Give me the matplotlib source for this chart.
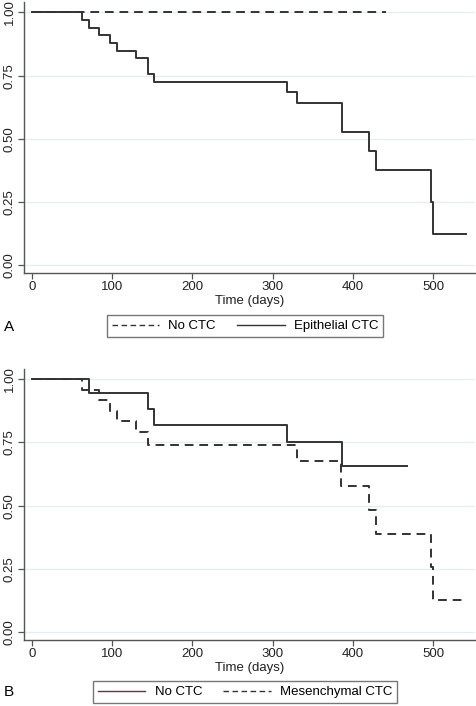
#!/usr/bin/env python3

import matplotlib
matplotlib.use("Agg")
import matplotlib.pyplot as plt
from matplotlib.lines import Line2D

plt.rcParams["font.family"] = ["Liberation Sans", "DejaVu Sans"]

# Panel A: survival curves (time in days, survival probability)
a_noctc_t = [0, 441]
a_noctc_s = [1.0, 1.0]
a_epi_t = [0, 62, 71, 84, 97, 106, 130, 144, 152, 318, 330, 386, 420, 429, 497, 500, 541]
a_epi_s = [1.0, 0.970, 0.939, 0.909, 0.879, 0.848, 0.818, 0.758, 0.727,
           0.686, 0.644, 0.529, 0.452, 0.377, 0.251, 0.126, 0.126]

# Panel B
b_noctc_t = [0, 71, 144, 152, 318, 387, 467]
b_noctc_s = [1.0, 0.945, 0.883, 0.819, 0.753, 0.657, 0.657]
b_mes_t = [0, 62, 84, 97, 106, 130, 144, 330, 385, 420, 429, 497, 500, 541]
b_mes_s = [1.0, 0.958, 0.917, 0.875, 0.833, 0.792, 0.740, 0.677, 0.578,
           0.483, 0.387, 0.258, 0.129, 0.129]

x_ticks = [0, 100, 200, 300, 400, 500]
y_ticks = [0.0, 0.25, 0.5, 0.75, 1.0]

LINE = "#333333"
SPINE = "#555555"
GRID = "#e3eef4"


def style_axes(ax):
    ax.set_xlim(-10, 552)
    ax.set_ylim(-0.03, 1.04)
    ax.set_xticks(x_ticks)
    ax.set_yticks(y_ticks)
    ax.set_yticklabels([f"{v:.2f}" for v in y_ticks], rotation=90, va="center")
    for v in y_ticks:
        ax.axhline(v, color=GRID, lw=0.9, zorder=0)
    for s in ["top", "right"]:
        ax.spines[s].set_visible(False)
    for s in ["left", "bottom"]:
        ax.spines[s].set_color(SPINE)
        ax.spines[s].set_linewidth(1.0)
    ax.tick_params(axis="both", colors=SPINE, length=4, width=0.9,
                   labelsize=9.5, labelcolor="#222222", pad=2)
    ax.set_xlabel("Time (days)", fontsize=9.5, color="#222222", labelpad=1)


def add_legend(handles, labels, y_px):
    leg = fig.legend(handles, labels, ncol=2, loc="center",
                     bbox_to_anchor=(245 / 476, 1 - y_px / 706),
                     fontsize=9.5, frameon=True, fancybox=False,
                     handlelength=3.6, columnspacing=1.6, borderpad=0.35,
                     handletextpad=0.7)
    leg.get_frame().set_edgecolor(SPINE)
    leg.get_frame().set_linewidth(1.0)
    return leg


fig = plt.figure(figsize=(4.76, 7.06), dpi=100)

# Panel A
axA = fig.add_axes([0.0504, 0.6133, 0.947, 0.3834])
axA.step(a_noctc_t, a_noctc_s, where="post", color=LINE, lw=1.4,
         linestyle=(0, (4.5, 3)))
axA.step(a_epi_t, a_epi_s, where="post", color=LINE, lw=1.4)
style_axes(axA)

handlesA = [Line2D([], [], color=LINE, lw=1.0, linestyle=(0, (4, 2.5))),
            Line2D([], [], color=LINE, lw=1.0)]
add_legend(handlesA, ["No CTC", "Epithelial CTC"], 326)
fig.text(4 / 476, 1 - 327 / 706, "A", fontsize=11, va="center", ha="left")

# Panel B
axB = fig.add_axes([0.0504, 0.0935, 0.947, 0.3838])
axB.step(b_noctc_t, b_noctc_s, where="post", color=LINE, lw=1.4)
axB.step(b_mes_t, b_mes_s, where="post", color=LINE, lw=1.4,
         linestyle=(0, (4.5, 3)))
style_axes(axB)

handlesB = [Line2D([], [], color="#5a3a3a", lw=1.0),
            Line2D([], [], color=LINE, lw=1.0, linestyle=(0, (4, 2.5)))]
add_legend(handlesB, ["No CTC", "Mesenchymal CTC"], 692)
fig.text(4 / 476, 1 - 692 / 706, "B", fontsize=11, va="center", ha="left")

fig.savefig("out.png", dpi=100)
